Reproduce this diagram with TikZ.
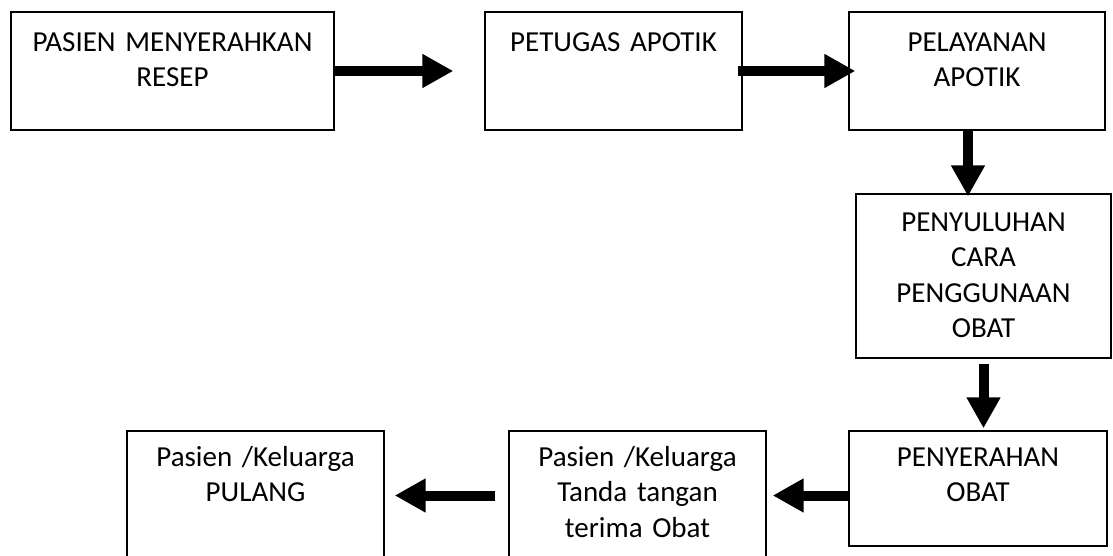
\documentclass[tikz,border=0pt]{standalone}
\usepackage{fontspec}
\setmainfont{Carlito}
\usepackage{tikz}
\usetikzlibrary{calc,positioning,arrows.meta}
\tikzset{
  stepbox/.style={draw=black,line width=1.4pt,inner sep=0pt},
  boxtext/.style={font=\fontsize{29}{35.5}\selectfont,text width=300pt,align=center,inner sep=0pt,anchor=base},
  flowarrow/.style={line width=10pt,-{Triangle[length=31pt,width=32pt]}}
}

\begin{document}
\begin{tikzpicture}[x=1pt,y=-1pt]
\useasboundingbox (0,0) rectangle (1113,556);
% boxes, top row then right column then bottom row
\node[stepbox,minimum width=323pt,minimum height=118pt] (b1) at (172.5,71) {};
\node[stepbox,minimum width=257pt,minimum height=118pt] (b2) at (613.5,71) {};
\node[stepbox,minimum width=256pt,minimum height=118pt] (b3) at (977,71) {};
\node[stepbox,minimum width=255pt,minimum height=164pt] (b4) at (983.5,276) {};
\node[stepbox,minimum width=258pt,minimum height=115pt] (b5) at (978,488.5) {};
\node[stepbox,minimum width=257pt,minimum height=129pt] (b6) at (637.5,495.5) {};
\node[stepbox,minimum width=257pt,minimum height=129pt] (b7) at (255.5,495.5) {};
% texts
\node[boxtext] (t1) at ([yshift=-40pt]b1.north) {PASIEN MENYERAHKAN\\RESEP};
\node[boxtext] (t2) at ([yshift=-40pt]b2.north) {PETUGAS APOTIK};
\node[boxtext] (t3) at ([yshift=-40pt]b3.north) {PELAYANAN\\APOTIK};
\node[boxtext] (t4) at ([yshift=-38pt]b4.north) {PENYULUHAN\\CARA\\PENGGUNAAN\\OBAT};
\node[boxtext] (t5) at ([yshift=-36pt]b5.north) {PENYERAHAN\\OBAT};
\node[boxtext] (t6) at ([yshift=-36pt]b6.north) {Pasien /Keluarga\\Tanda tangan\\terima Obat};
\node[boxtext] (t7) at ([yshift=-36pt]b7.north) {Pasien /Keluarga\\PULANG};
% arrows
\draw[flowarrow,shorten >=31pt] (b1.east) -- (b2.west);
\draw[flowarrow,shorten <=-5pt,shorten >=-7pt] (b2.east) -- (b3.west);
\draw[flowarrow,shorten >=-3pt] ([xshift=-9pt]b3.south) -- ([xshift=-9pt]b3.south |- b4.north);
\draw[flowarrow,shorten <=5pt,shorten >=2pt] (b4.south) -- (b4.south |- b5.north);
\draw[flowarrow,shorten >=6pt] ([yshift=-7pt]b5.west) -- ([yshift=-7pt]b5.west -| b6.east);
\draw[flowarrow,shorten <=13pt,shorten >=10pt] (b6.west) -- (b7.east);
\end{tikzpicture}
\end{document}
